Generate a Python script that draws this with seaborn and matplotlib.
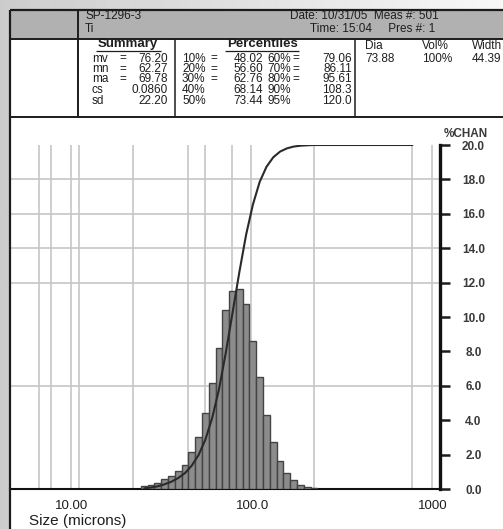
import numpy as np
import pandas as pd
import matplotlib
matplotlib.use("Agg")
import matplotlib.pyplot as plt
import seaborn as sns
from matplotlib.lines import Line2D
from matplotlib.patches import Rectangle
from matplotlib.ticker import FixedLocator, FixedFormatter, NullFormatter
import matplotlib.transforms as mtrans

# ---------------- data ----------------
channel_edges = [22.00, 23.99, 26.16, 28.53, 31.11, 33.93, 37.00, 40.35, 44.00,
                 47.98, 52.33, 57.06, 62.23, 67.86, 74.00, 80.70, 88.00, 95.96,
                 104.7, 114.1, 124.5, 135.7, 148.0, 161.4, 176.0, 191.9, 209.3]
chan_pct = [0.19, 0.23, 0.35, 0.58, 0.73, 1.06, 1.40, 2.16, 3.00, 4.39, 6.17,
            8.17, 10.40, 11.50, 11.60, 10.75, 8.63, 6.51, 4.30, 2.73, 1.62,
            0.92, 0.52, 0.25, 0.12, 0.08]
curve_end_size = 704.0

x_tick_values = [10, 100, 1000]
x_tick_labels = ["10.00", "100.0", "1000"]
y_tick_values = [0, 2, 4, 6, 8, 10, 12, 14, 16, 18, 20]
y_tick_labels = ["0.0", "2.0", "4.0", "6.0", "8.0", "10.0", "12.0", "14.0",
                 "16.0", "18.0", "20.0"]

sample_id = "SP-1296-3"
sample_name = "Ti"
date_text = "Date: 10/31/05  Meas #: 501"
time_text = "Time: 15:04     Pres #: 1"
summary_labels = ["mv", "mn", "ma", "cs", "sd"]
summary_values = ["76.20", "62.27", "69.78", "0.0860", "22.20"]
pct_left_labels = ["10%", "20%", "30%", "40%", "50%"]
pct_left_values = ["48.02", "56.60", "62.76", "68.14", "73.44"]
pct_right_labels = ["60%", "70%", "80%", "90%", "95%"]
pct_right_values = ["79.06", "86.11", "95.61", "108.3", "120.0"]
peak_headers = ["Dia", "Vol%", "Width"]
peak_values = ["73.88", "100%", "44.39"]

# ---------------- style ----------------
sns.set_style("white")
plt.rcParams["font.family"] = ["Liberation Sans", "DejaVu Sans"]
TXT = "#1e1e1e"
W, H = 503, 529
fig = plt.figure(figsize=(W / 100, H / 100), dpi=100)
fig.patch.set_facecolor("#d2d2d2")


def fx(px):
    return px / W


def fy(py):
    return 1 - py / H


def ftext(x, y, s, **kw):
    kw.setdefault("color", TXT)
    kw.setdefault("fontsize", 8.5)
    kw.setdefault("va", "center")
    fig.text(fx(x), fy(y), s, **kw)


def fline(x0, y0, x1, y1, lw=1.5, color="#1c1c1c"):
    fig.add_artist(Line2D([fx(x0), fx(x1)], [fy(y0), fy(y1)],
                          transform=fig.transFigure, lw=lw, color=color,
                          zorder=6, solid_capstyle="butt"))


def frect(x0, y0, x1, y1, color):
    fig.add_artist(Rectangle((fx(x0), fy(y1)), fx(x1) - fx(x0), fy(y0) - fy(y1),
                             transform=fig.transFigure, facecolor=color,
                             edgecolor="none", zorder=-5))


# background gradient (decoration)
bg = fig.add_axes([0, 0, 1, 1], zorder=-10)
bg.axis("off")
grad = np.linspace(0.80, 0.97, 256)[None, :]
bg.imshow(grad, aspect="auto", cmap="gray", vmin=0, vmax=1, extent=[0, 1, 0, 1])
bg.set_xlim(0, 1)
bg.set_ylim(0, 1)

# boxes
frect(10, 38, W, H, "white")
frect(10, 10, W, 38, "#b1b1b1")

# frame lines
fline(10, 10, W, 10, lw=1.6)
fline(10, 10, 10, H, lw=1.6)
fline(10, 38.5, W, 38.5, lw=1.4)
fline(78, 10, 78, 117, lw=1.4)
fline(175, 38.5, 175, 117, lw=1.1)
fline(355, 38.5, 355, 117, lw=1.1)
fline(10, 117, W, 117, lw=1.4)

# header texts
ftext(85, 16, sample_id)
ftext(85, 29, sample_name)
ftext(290, 16, date_text)
ftext(310, 29, time_text)

# Summary block
ftext(128, 44, "Summary", ha="center", fontsize=9.5, fontweight="bold")
fline(96, 50.5, 161, 50.5, lw=0.9, color=TXT)
row_y = [58.5, 69, 79.5, 90, 100.5]
for i, (lab, val) in enumerate(zip(summary_labels, summary_values)):
    ftext(92, row_y[i], lab)
    if i < 3:
        ftext(123, row_y[i], "=", ha="center")
    ftext(168, row_y[i], val, ha="right")

# Percentiles block
ftext(262, 44, "Percentiles", ha="center", fontsize=9.5, fontweight="bold")
fline(225, 50.5, 299, 50.5, lw=0.9, color=TXT)
for i in range(5):
    ftext(182, row_y[i], pct_left_labels[i])
    ftext(267, row_y[i], pct_right_labels[i])
    if i < 3:
        ftext(214, row_y[i], "=", ha="center")
        ftext(296, row_y[i], "=", ha="center")
    ftext(263, row_y[i], pct_left_values[i], ha="right")
    ftext(352, row_y[i], pct_right_values[i], ha="right")

# Peak block
peak_x = [365, 422, 472]
for px_, h_, v_ in zip(peak_x, peak_headers, peak_values):
    ftext(px_, 46, h_)
    ftext(px_, 58.5, v_)

# ---------------- main plot ----------------
ax_l, ax_r, ax_t, ax_b = 10, 440, 145, 489
ax = fig.add_axes([fx(ax_l), fy(ax_b), fx(ax_r) - fx(ax_l), fy(ax_t) - fy(ax_b)])
ax.set_facecolor("none")

edges = np.array(channel_edges)
centers = np.sqrt(edges[:-1] * edges[1:])
df = pd.DataFrame({"size": centers, "pct": chan_pct})
sns.histplot(data=df, x="size", weights="pct", bins=list(np.log10(edges)),
             log_scale=True, stat="count", color="#8c8c8c", edgecolor="#444444",
             linewidth=1.0, alpha=1.0, ax=ax, zorder=3)

# cumulative curve (100 % drawn at the 20.0 line), plotted at channel centres
cum = np.cumsum(chan_pct) / np.sum(chan_pct) * 100.0
curve_df = pd.DataFrame({"size": list(centers) + [curve_end_size],
                         "cum": list(cum / 5.0) + [100.0 / 5.0]})
sns.lineplot(data=curve_df, x="size", y="cum", ax=ax, color="#2a2a2a",
             lw=1.5, sort=False, estimator=None, zorder=4)

ax.set_xscale("log")
ax.set_xlim(4.146, 1000)
ax.set_ylim(0, 20)

grid_x = [6, 7, 9, 10, 20, 40, 50, 70, 90, 200, 700, 900]
grid_y = [6, 12, 14, 16, 18]
for gx in grid_x:
    ax.axvline(gx, color="#c6c6c6", lw=1.2, zorder=1)
for gy in grid_y:
    ax.axhline(gy, color="#c6c6c6", lw=1.2, zorder=1)

ax.xaxis.set_major_locator(FixedLocator(x_tick_values))
ax.xaxis.set_major_formatter(FixedFormatter(x_tick_labels))
minor = [m * d for d in (1, 10, 100) for m in range(2, 10)]
ax.xaxis.set_minor_locator(FixedLocator(minor))
ax.xaxis.set_minor_formatter(NullFormatter())
ax.tick_params(axis="x", which="both", direction="out", length=6, width=1.4,
               color="#1c1c1c", labelsize=9.5, labelcolor=TXT, pad=2)
shift = mtrans.ScaledTranslation(-7 / 100, 0, fig.dpi_scale_trans)
for lab in ax.get_xticklabels():
    lab.set_transform(lab.get_transform() + shift)

ax.yaxis.tick_right()
ax.set_yticks(y_tick_values)
ax.set_yticklabels(y_tick_labels)
ax.tick_params(axis="y", which="both", direction="out", length=7, width=1.8,
               color="#1c1c1c", labelsize=8.5, labelcolor="#3a3a3a", pad=17)
for lab in ax.get_yticklabels():
    lab.set_horizontalalignment("center")
    lab.set_fontweight("bold")

ax.set_xlabel("")
ax.set_ylabel("")
for s in ("top", "left"):
    ax.spines[s].set_visible(False)
ax.spines["right"].set_linewidth(2.4)
ax.spines["right"].set_color("#111111")
ax.spines["bottom"].set_linewidth(1.5)
ax.spines["bottom"].set_color("#111111")

ftext(466, 134, "%CHAN", ha="center", fontsize=8.5, fontweight="bold", color="#3a3a3a")
ftext(29, 521, "Size (microns)", fontsize=11)

fig.savefig("out.png", dpi=100, facecolor=fig.get_facecolor())
